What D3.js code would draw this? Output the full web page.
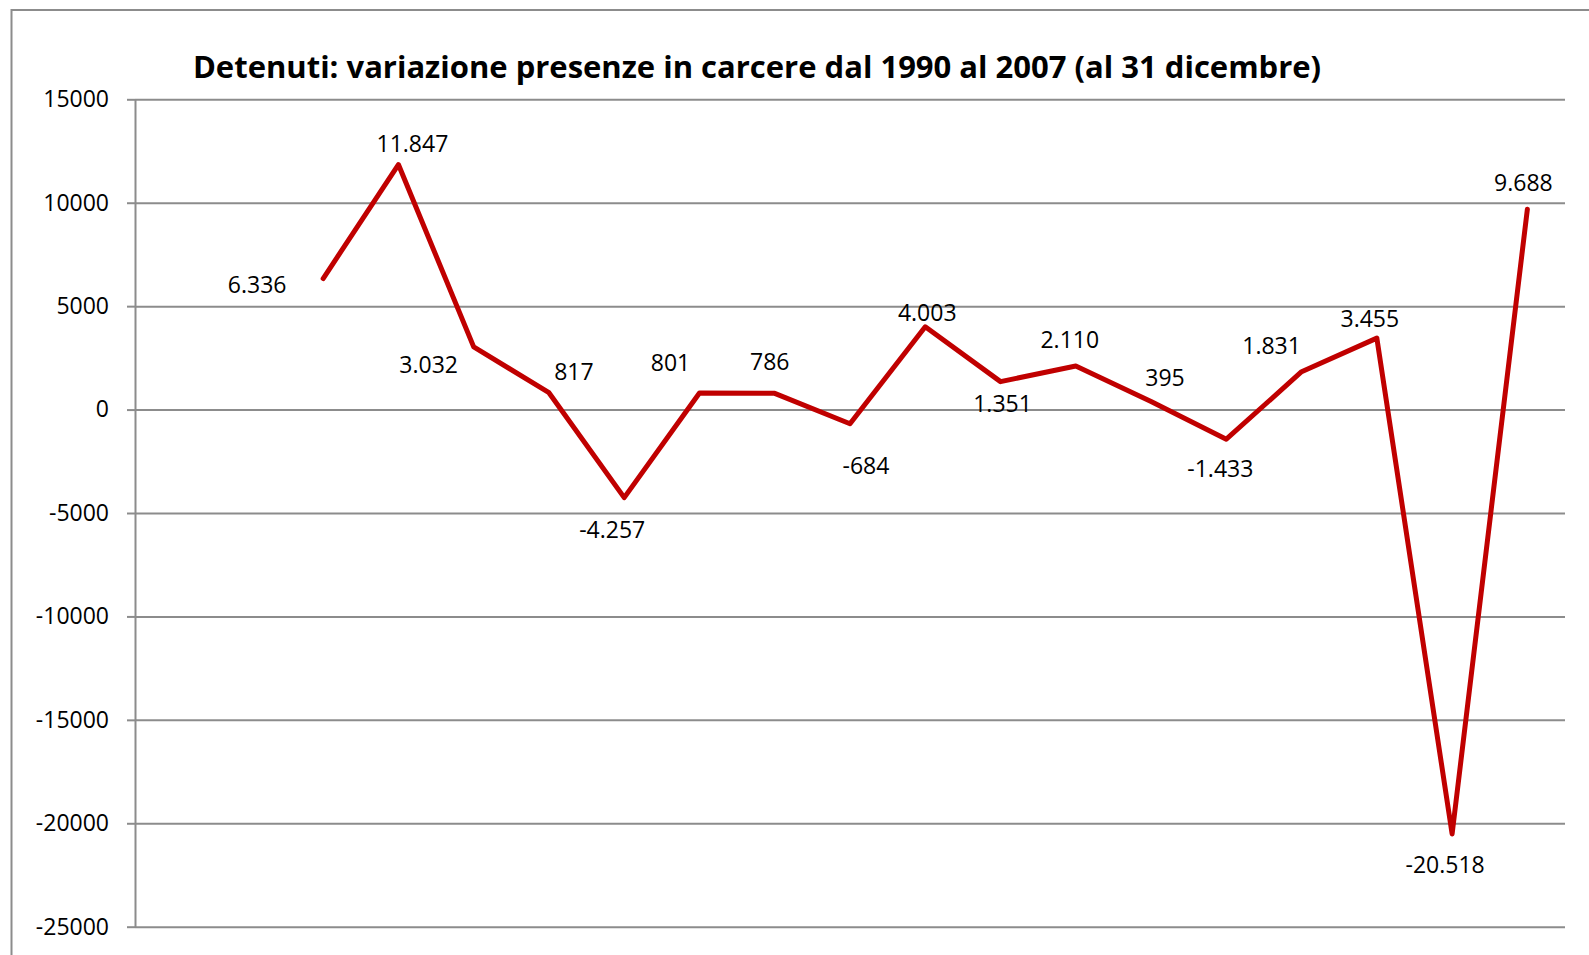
<!DOCTYPE html>
<html>
<head>
<meta charset="utf-8">
<script src="https://cdn.jsdelivr.net/npm/d3@7"></script>
<style>
  html, body { margin: 0; padding: 0; background: #fff; overflow: hidden; }
  text { font-family: "Open Sans", sans-serif; }
</style>
</head>
<body>
<script>
// categories (first two have no value), yearly variation, y ticks
const years = ["1989", "1990", "1991", "1992", "1993", "1994", "1995", "1996", "1997", "1998",
               "1999", "2000", "2001", "2002", "2003", "2004", "2005", "2006", "2007"];
const variazione = [null, null, 6336, 11847, 3032, 817, -4257, 801, 786, -684,
                    4003, 1351, 2110, 395, -1433, 1831, 3455, -20518, 9688];
const yTicks = [15000, 10000, 5000, 0, -5000, -10000, -15000, -20000, -25000];

// where each data label sits relative to its point (like the hand-moved labels)
const labelDx = [0, 0, -66, 14, -45, 25, -12, -29, -5, 16, 2, 2, -6, 14, -6, -30, -7, -7, -4];
const labelDy = [0, 0, 14, -13, 26, -13, 40, -22, -23, 50, -6, 30, -18, -15, 38, -18, -11, 39, -18];

const width = 1589, height = 955;
const plotLeft = 135, plotRight = 1565, plotTop = 99.3, plotBottom = 926.7;

const svg = d3.select("body").append("svg")
    .attr("width", width)
    .attr("height", height);

// outer chart border, cut off at the right and bottom
svg.append("rect")
    .attr("x", 11.5).attr("y", 10)
    .attr("width", 1700).attr("height", 1100)
    .attr("fill", "none")
    .attr("stroke", "#8c8c8c")
    .attr("stroke-width", 2);

svg.append("text")
    .attr("x", 757).attr("y", 78)
    .attr("text-anchor", "middle")
    .attr("font-weight", "bold")
    .attr("font-size", 31)
    .attr("fill", "#000")
    .text("Detenuti: variazione presenze in carcere dal 1990 al 2007 (al 31 dicembre)");

const x = d3.scalePoint()
    .domain(years)
    .range([plotLeft, plotRight])
    .padding(0.5);

const y = d3.scaleLinear()
    .domain([-25000, 15000])
    .range([plotBottom, plotTop]);

// grid lines
svg.append("g")
    .attr("transform", `translate(${plotLeft},0)`)
    .call(d3.axisLeft(y).tickValues(yTicks).tickSize(-(plotRight - plotLeft)).tickFormat(""))
    .call(g => g.select(".domain").remove())
    .call(g => g.selectAll("line").attr("stroke", "#8c8c8c").attr("stroke-width", 2));

// y axis
svg.append("g")
    .attr("transform", `translate(${plotLeft},0)`)
    .call(d3.axisLeft(y).tickValues(yTicks).tickSize(8).tickSizeOuter(0).tickPadding(18)
        .tickFormat(d => String(d)))
    .call(g => g.select(".domain").attr("stroke", "#8c8c8c").attr("stroke-width", 2))
    .call(g => g.selectAll("line").attr("stroke", "#8c8c8c").attr("stroke-width", 2))
    .call(g => g.selectAll("text")
        .attr("font-family", "'Open Sans', sans-serif")
        .attr("font-size", 23)
        .attr("fill", "#000"));

const rows = years.map((yr, i) => ({ yr, v: variazione[i], dx: labelDx[i], dy: labelDy[i] }))
    .filter(d => d.v !== null);

const line = d3.line()
    .x(d => x(d.yr))
    .y(d => y(d.v));

svg.append("path")
    .datum(rows)
    .attr("d", line)
    .attr("fill", "none")
    .attr("stroke", "#c00000")
    .attr("stroke-width", 5)
    .attr("stroke-linejoin", "round")
    .attr("stroke-linecap", "round");

const it = d3.formatLocale({ decimal: ",", thousands: ".", grouping: [3], currency: ["€", ""], minus: "-" });
const fmt = it.format(",d");

svg.append("g")
    .selectAll("text")
    .data(rows)
    .join("text")
    .attr("x", d => x(d.yr) + d.dx)
    .attr("y", d => y(d.v) + d.dy)
    .attr("text-anchor", "middle")
    .attr("font-size", 23)
    .attr("fill", "#000")
    .text(d => fmt(d.v));
</script>
</body>
</html>
